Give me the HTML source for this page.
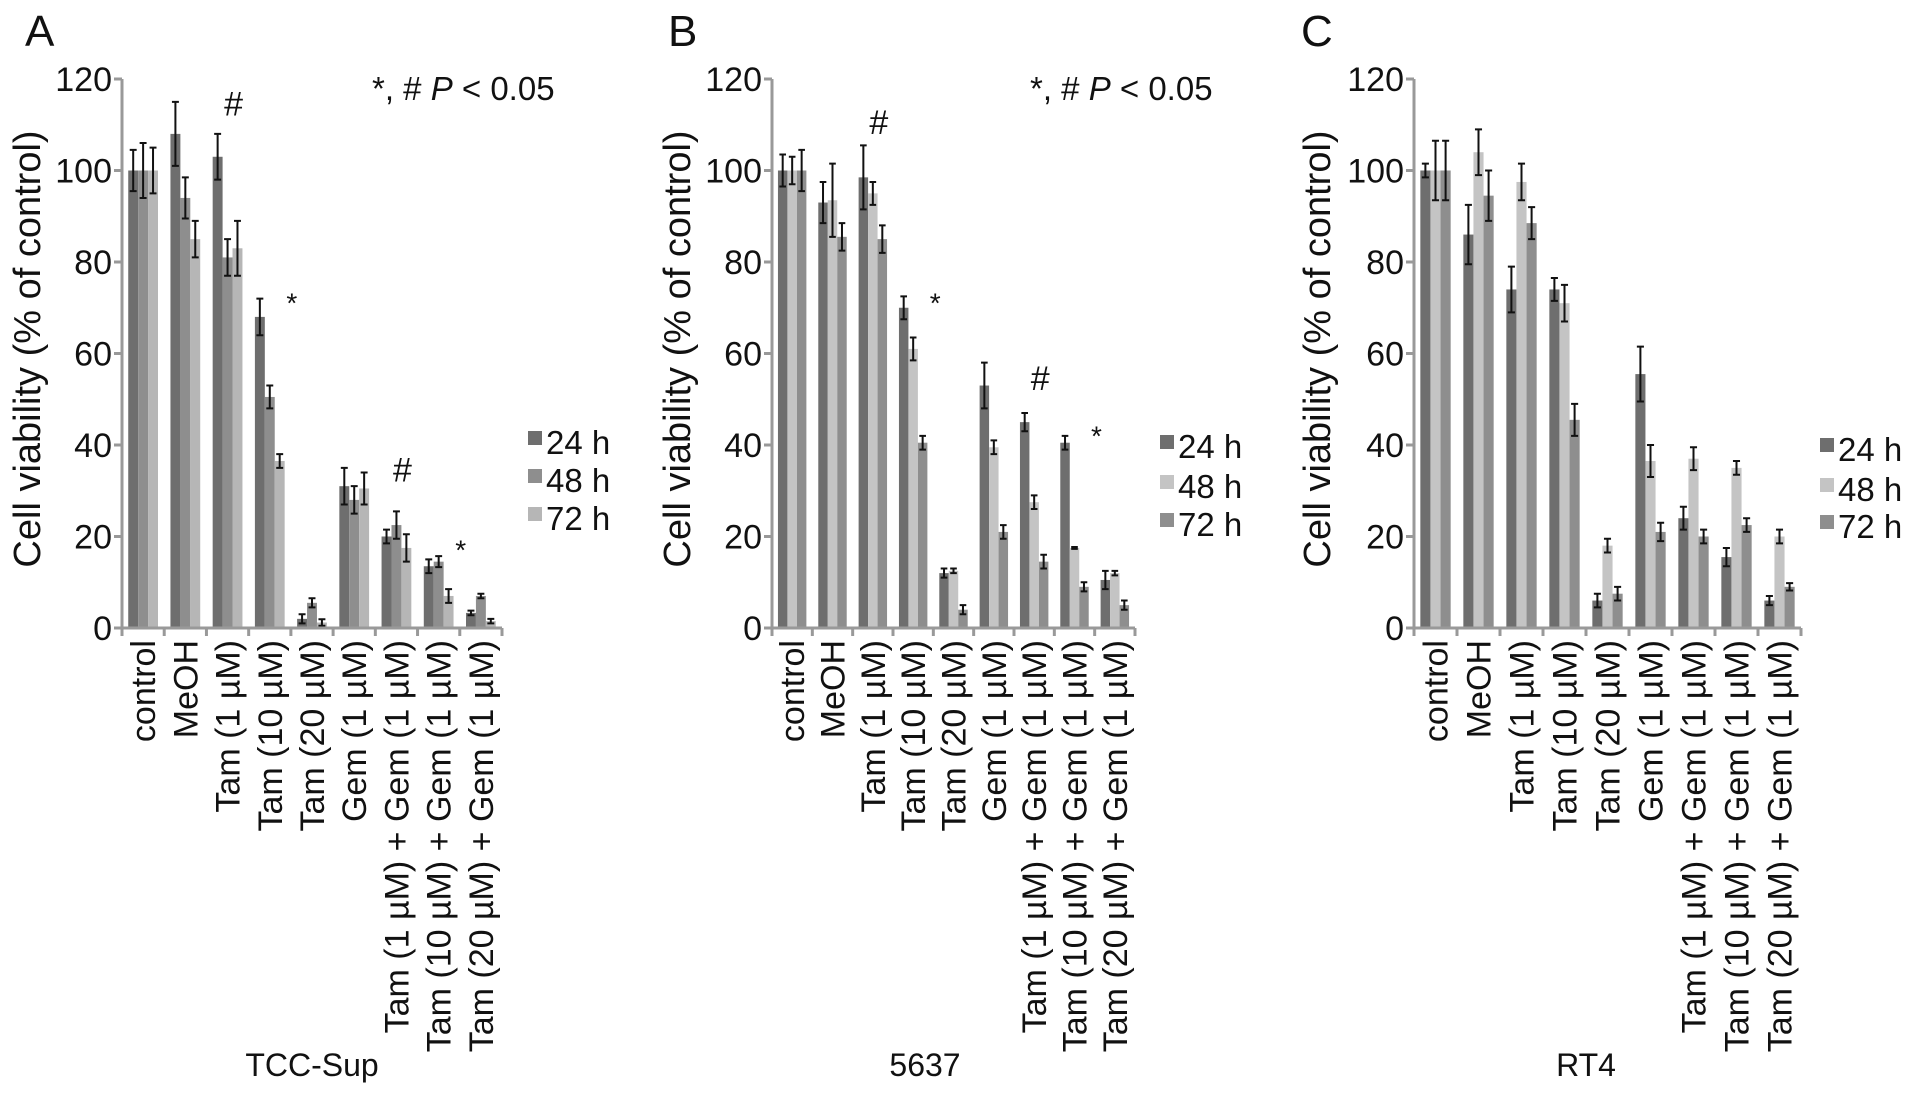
<!DOCTYPE html>
<html><head><meta charset="utf-8"><style>
html,body{margin:0;padding:0;background:#fff;}
svg{display:block;font-family:"Liberation Sans",Arial,sans-serif;}
</style></head><body>
<svg id="fig" width="1913" height="1093" viewBox="0 0 1913 1093" xmlns="http://www.w3.org/2000/svg"></svg>
<script>
const categories = ["control","MeOH","Tam (1 µM)","Tam (10 µM)","Tam (20 µM)","Gem (1 µM)","Tam (1 µM) + Gem (1 µM)","Tam (10 µM) + Gem (1 µM)","Tam (20 µM) + Gem (1 µM)"];
const seriesNames = ["24 h","48 h","72 h"];
const yTicks = [0,20,40,60,80,100,120];
const aV24 = [100,108,103,68,2,31,20,13.5,3.3];
const aV48 = [100,94,81,50.5,5.5,28,22.5,14.5,7];
const aV72 = [100,85,83,36.5,1.2,30.5,17.5,7,1.5];
const aE24 = [4.5,7,5,4,1,4,1.5,1.5,0.5];
const aE48 = [6,4.5,4,2.5,1,3,3,1.2,0.5];
const aE72 = [5,4,6,1.5,0.7,3.5,3,1.5,0.5];
const bV24 = [100,93,98.5,70,12,53,45,40.5,10.5];
const bV48 = [100,93.5,95,61,12.5,39.5,27.5,17.5,12];
const bV72 = [100,85.5,85,40.5,4,21,14.5,9,5];
const bE24 = [3.5,4.5,7,2.5,1,5,2,1.5,2];
const bE48 = [3,8,2.5,2.5,0.5,1.5,1.5,0.2,0.5];
const bE72 = [4.5,3,3,1.5,1,1.5,1.5,1,1];
const cV24 = [100,86,74,74,6,55.5,24,15.5,6];
const cV48 = [100,104,97.5,71,18,36.5,37,35,20];
const cV72 = [100,94.5,88.5,45.5,7.5,21,20,22.5,9];
const cE24 = [1.5,6.5,5,2.5,1.5,6,2.5,2,1];
const cE48 = [6.5,5,4,4,1.5,3.5,2.5,1.5,1.5];
const cE72 = [6.5,5.5,3.5,3.5,1.5,2,1.5,1.5,0.8];
const aMarks = [["#",2,112],["*",3,72],["#",6,32],["*",7,18]];
const bMarks = [["#",2,108],["*",3,72],["#",6,52],["*",7,43]];
const cMarks = [];

const NS="http://www.w3.org/2000/svg";
const svg=document.getElementById('fig');
function mk(tag,attrs,parent){const e=document.createElementNS(NS,tag);for(const k in attrs)e.setAttribute(k,attrs[k]);(parent||svg).appendChild(e);return e;}

const panels=[
 {letter:"A",lx:25,x0:122,x1:502,vals:[aV24,aV48,aV72],errs:[aE24,aE48,aE72],cols:["#6e6e6e","#8e8e8e","#b6b6b6"],marks:aMarks,pval:true,px:372,tx:26,legX:528,legY:[443,481,519],name:"TCC-Sup",nx:312},
 {letter:"B",lx:668,x0:772,x1:1135,vals:[bV24,bV48,bV72],errs:[bE24,bE48,bE72],cols:["#6e6e6e","#c4c4c4","#8e8e8e"],marks:bMarks,pval:true,px:1030,tx:676,legX:1160,legY:[447,487,525],name:"5637",nx:925},
 {letter:"C",lx:1301,x0:1414,x1:1801,vals:[cV24,cV48,cV72],errs:[cE24,cE48,cE72],cols:["#6e6e6e","#c4c4c4","#8e8e8e"],marks:cMarks,pval:false,px:0,tx:1316,legX:1820,legY:[450,490,527],name:"RT4",nx:1586}
];
const Y0=628,Y120=79;
function yScale(v){return Y0-(v/120)*(Y0-Y120);}

panels.forEach((p,pi)=>{
 const g=mk('g',{});
 
 
 const L=mk('text',{x:p.lx,y:46,'font-size':44,fill:'#111'},g);L.textContent=p.letter;
 
 const cw=(p.x1-p.x0)/categories.length;
 const bw=cw*0.235;
 for(let s=0;s<3;s++){
  categories.forEach((c,i)=>{
   const cx=p.x0+cw*(i+0.5);
   const bx=cx-1.5*bw+s*bw;
   const v=p.vals[s][i],e=p.errs[s][i];
   const r=mk('rect',{x:bx,y:yScale(v),width:bw,height:Y0-yScale(v),fill:p.cols[s]},g);
   
   const mx=bx+bw/2,cap=bw*0.35;
   const eb=mk('path',{d:`M${mx},${yScale(v+e)}V${yScale(v-e)}M${mx-cap},${yScale(v+e)}h${2*cap}M${mx-cap},${yScale(v-e)}h${2*cap}`,stroke:'#111','stroke-width':2,fill:'none'},g);
   
  });
 }
 const ya=mk('line',{x1:p.x0,y1:Y120,x2:p.x0,y2:Y0+1,stroke:'#999','stroke-width':3},g);
 
 const xa=mk('line',{x1:p.x0-8,y1:Y0,x2:p.x1,y2:Y0,stroke:'#999','stroke-width':3},g);
 
 yTicks.forEach(t=>{
  mk('line',{x1:p.x0-8,y1:yScale(t),x2:p.x0,y2:yScale(t),stroke:'#999','stroke-width':3},g);
  const tl=mk('text',{x:p.x0-10,y:yScale(t)+12,'font-size':34,'text-anchor':'end',fill:'#111'},g);
  tl.textContent=t;
 });
 for(let i=0;i<=categories.length;i++){
  mk('line',{x1:p.x0+cw*i,y1:Y0,x2:p.x0+cw*i,y2:Y0+8,stroke:'#999','stroke-width':3},g);
 }
 categories.forEach((c,i)=>{
  const cx=p.x0+cw*(i+0.5)+12;
  const t=mk('text',{x:0,y:0,'font-size':34,'text-anchor':'end',fill:'#111',transform:`translate(${cx},640) rotate(-90)`},g);
  t.textContent=c;
 });
 const yt=mk('text',{x:0,y:0,'font-size':38,'text-anchor':'middle',fill:'#111',transform:`translate(${p.tx+14},349) rotate(-90)`},g);
 yt.textContent="Cell viability (% of control)";
 const nt=mk('text',{x:p.nx,y:1076,'font-size':32,'text-anchor':'middle',fill:'#111'},g);
 nt.textContent=p.name;
 if(p.pval){
  const pt=mk('text',{x:p.px,y:100,'font-size':33,fill:'#111'},g);
  pt.innerHTML='*, # <tspan font-style="italic">P</tspan> &lt; 0.05';
  
 }
 p.marks.forEach(m=>{
  const cx=p.x0+cw*(m[1]+0.5);
  const isHash=m[0]==="#";
  const t=mk('text',{x:isHash?cx+6:cx+22,y:yScale(m[2])+(isHash?0:14),'font-size':isHash?34:28,'text-anchor':'middle',fill:'#111'},g);
  t.textContent=m[0];
 });
 seriesNames.forEach((sn,s)=>{
  const lg=mk('g',{},g);
  
  mk('rect',{x:p.legX,y:p.legY[s]-12,width:14,height:14,fill:p.cols[s]},lg);
  const lt=mk('text',{x:p.legX+18,y:p.legY[s]+11,'font-size':33,fill:'#111'},lg);lt.textContent=sn;
 });
});
</script>
</body></html>
